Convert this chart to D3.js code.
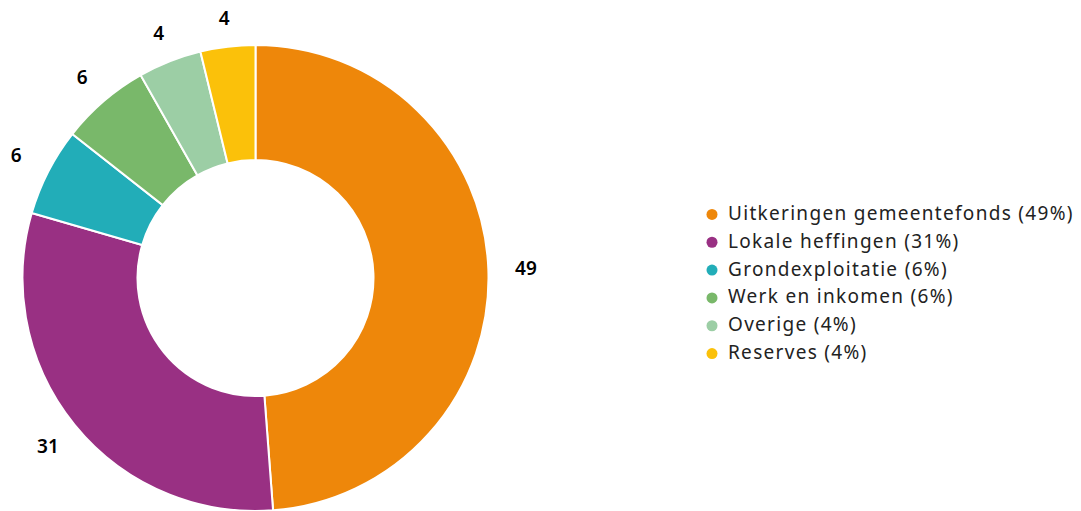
<!DOCTYPE html>
<html>
<head>
<meta charset="utf-8">
<script src="https://cdn.jsdelivr.net/npm/d3@7"></script>
<style>
  html, body { margin: 0; padding: 0; background: #fff; }
  svg { display: block; }
</style>
</head>
<body>
<svg id="chart" width="1081" height="511"></svg>
<script>
const categories = ["Uitkeringen gemeentefonds", "Lokale heffingen", "Grondexploitatie", "Werk en inkomen", "Overige", "Reserves"];
const values = [48.8, 30.7, 6.1, 6.2, 4.4, 3.8];
const sliceLabels = ["49", "31", "6", "6", "4", "4"];
const legendPercents = ["49%", "31%", "6%", "6%", "4%", "4%"];
const colors = ["#EE870A", "#993083", "#22ADB8", "#79B86A", "#9CCEA5", "#FBC10A"];

const font = "'Noto Sans', Lato, sans-serif";
const svg = d3.select("#chart");
const cx = 255.5, cy = 278, outerR = 233, innerR = 118;

const data = categories.map((c, i) => ({ name: c, value: values[i], label: sliceLabels[i], pct: legendPercents[i], color: colors[i] }));

const pie = d3.pie().value(d => d.value).sort(null);
const arc = d3.arc().innerRadius(innerR).outerRadius(outerR);
const arcs = pie(data);

const g = svg.append("g").attr("transform", `translate(${cx},${cy})`);
g.selectAll("path").data(arcs).join("path")
  .attr("d", arc)
  .attr("fill", d => d.data.color)
  .attr("stroke", "#fff")
  .attr("stroke-width", 2);

function labelPos(d) {
  const a = (d.startAngle + d.endAngle) / 2;
  const s = Math.sin(a);
  const r = 262 + 8.7 * s * s;
  return [r * Math.sin(a), -r * Math.cos(a)];
}

g.selectAll("text").data(arcs).join("text")
  .attr("transform", d => `translate(${labelPos(d)})`)
  .attr("text-anchor", "middle")
  .attr("dominant-baseline", "central")
  .attr("font-family", font)
  .attr("font-size", 19)
  .attr("font-weight", 600)
  .attr("fill", "#000")
  .text(d => d.data.label);

const legendY = d3.scaleBand().domain(categories).range([199, 366]);
const lg = svg.append("g");
const items = lg.selectAll("g").data(data).join("g")
  .attr("transform", d => `translate(0,${legendY(d.name) + legendY.bandwidth() / 2})`);
items.append("circle").attr("cx", 712).attr("cy", 1.5).attr("r", 5.5).attr("fill", d => d.color);
items.append("text")
  .attr("x", 728).attr("y", 0)
  .attr("dominant-baseline", "central")
  .attr("font-family", font)
  .attr("font-size", 19)
  .attr("letter-spacing", 1.3)
  .attr("fill", "#222")
  .text(d => `${d.name} (${d.pct})`);
</script>
</body>
</html>
